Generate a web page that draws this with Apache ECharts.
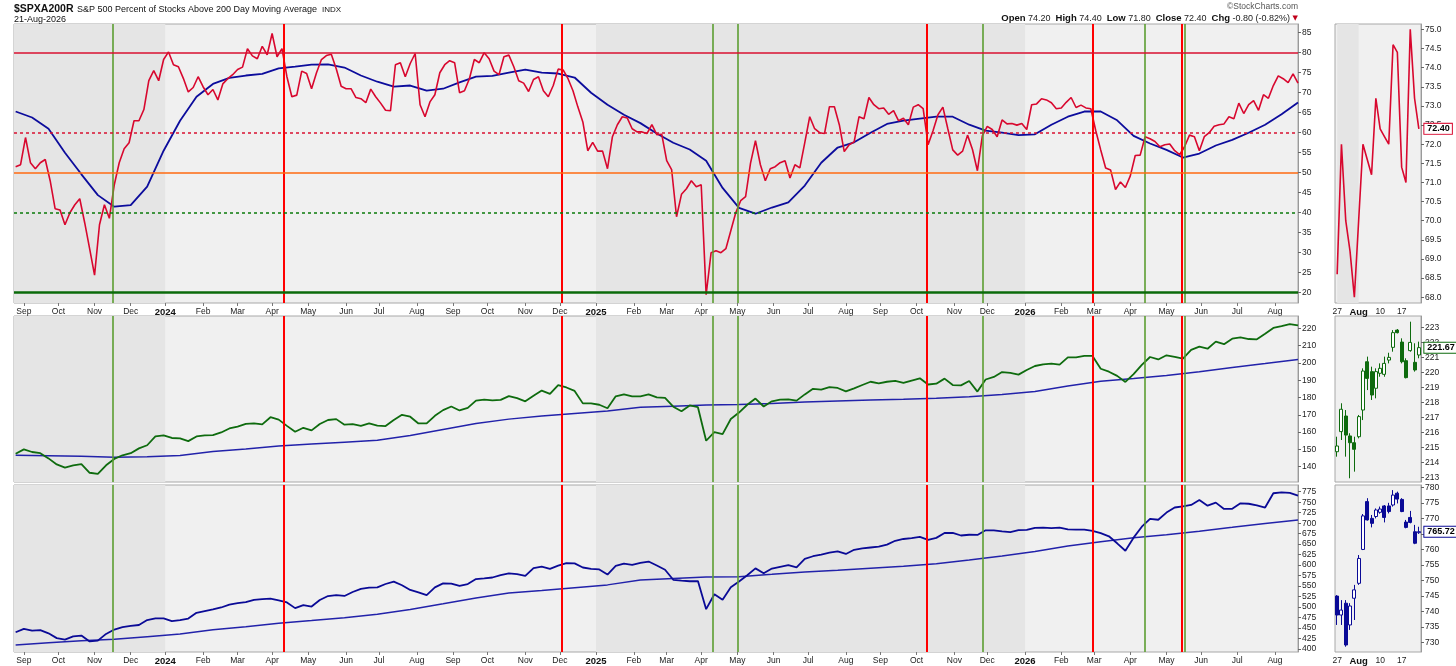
<!DOCTYPE html>
<html>
<head>
<meta charset="utf-8">
<script src="https://cdn.jsdelivr.net/npm/echarts@6/dist/echarts.min.js"></script>
<style>html,body{margin:0;padding:0;background:#fff;}#c{width:1456px;height:666px;}</style>
</head>
<body>
<div id="c"></div>
<script>
// ---------- axis range (weekday calendar) ----------
const startDate = '2023-08-24';
const endDate = '2026-08-21';
const monthNames = ['Jan','Feb','Mar','Apr','May','Jun','Jul','Aug','Sep','Oct','Nov','Dec'];

// ---------- $SPXA200R, read every 3rd weekday starting at 2023-08-25 ----------
const spxaStep = 3, spxaOffset = 1;
const spxa200r = [
51.5,52,58.8,52.5,51,52.5,53.3,48,41,40.7,
37,40,42,43.5,37.5,31,24.4,37,42,38.6,
47,52.5,56,57.5,63,63,65.8,73,75.5,73,
78.3,80.2,77,76.5,73.6,70.2,71.3,74,71.5,69.5,
70.8,68.2,72.2,73.5,74.5,75.8,76.4,81,79.2,78.5,
81.6,79.5,84.8,79,81,74,69,69.4,75.4,74.8,
71,75,78.3,79.3,79.6,76,71.6,71,71,68.8,
68.5,67.5,70.9,69,67.4,65.6,65.5,77,77.5,74,
77.3,79.8,67,64,67.7,69.5,75,77,78,77.5,
70,70.5,73.5,78.3,77.5,80,78.5,75.4,74.5,79,
79.4,76.5,73,72.4,70.3,73.3,74,70.5,69,71.8,
75.9,75.7,73.5,70.5,66.4,62.7,55.5,57.6,55.4,55.4,
51,59,62,64,63.7,61,60.2,60.2,59.8,62,
59.5,59.6,53,50.8,39,44.6,46,48,46.5,47,
19.5,30,30.5,30,31,35.5,40,43,44,52.4,
58,52,48,51,51.5,52.5,53,48.7,52,51.2,
57.5,64,61,60,59.8,66.5,66.5,62,55.3,57,
57.7,64,63.5,68.8,67,66,66.2,64.6,65.5,63,
63.6,62,66.4,67,66,57,60.5,64.5,66.4,61,
55.7,54.4,55.4,59.4,55.8,50.5,59.2,61.6,60.8,59,
63.2,62.2,62.3,61.9,62.3,60.8,67,67.2,68.5,68.2,
67.5,66,66.2,67.6,68.8,66.3,66.9,66.2,66,60.5,
55.7,51.2,50.7,45.8,47.7,46.3,49.2,54.3,54.4,59,
58.5,57.8,56.5,57,57.2,55.5,54.5,56.5,59.4,59,
55.5,59,60,61.6,62,62.2,64,63.5,67.4,64.8,
67,68,65.6,69.5,68.6,71.8,74.2,73.5,72.5,74.7,
72.4
];
// MA(50) of $SPXA200R, read every 10th weekday
const ma50Step = 10, ma50Offset = 1;
const ma50 = [
65.3,63.8,61,55,49.6,44.4,41.5,41.9,46.5,55.5,
63,69,72.2,73.7,74.3,74.7,76.1,76.5,77,77.1,
76.3,74.3,72.75,71.5,71.8,70.5,71,72.6,74,74.2,
75,75.8,75,74.8,73.8,70,67,64.5,62.4,59.8,
57.5,55.8,53,46.2,41.2,39.75,41.3,42.6,46.8,52.5,
56.3,57.6,60,62.2,63,63.5,64,64,62,60.5,
60,59.4,59.6,62,64,65.3,65.3,63.1,59.2,57.3,
55.7,53.8,54.8,56.8,58.2,60,62,64.6,67.58
];

// ---------- _RSP / _SPY closes, read every 5th weekday ----------
const priceStep = 5, priceOffset = 1;
const rsp = [
147.5,150,148.5,147.8,144.8,141.3,139.5,140.8,141.5,136.5,
135.8,140.8,144.5,146.6,147.8,150.6,152.4,157.5,158.1,156.6,
156.4,154.8,157.5,158.1,158.2,159.8,162.1,163.2,164.8,165.1,
164.5,168.6,167.2,163.6,160.2,162.5,161,164.7,167,167.5,
164.3,164.6,163.6,165.1,163.8,163.5,167,170,168.9,165,
165,169.4,172.7,174.8,172.5,174,178.2,178.8,178.3,178.6,
180.8,179.6,177.8,181,184,182.1,187.2,185.8,183.8,176.6,
176.6,175.8,173.8,180.7,181.8,180.7,180.6,181.8,180.1,179.8,
174.7,172,175.4,174.4,155,160,158.8,167.6,171.3,175.8,
179.4,174.8,177.8,178.8,178.9,178.2,181.8,185,184.6,186,
185.5,183.5,185.3,187.2,189.1,188.2,189.1,189.6,188.4,189.8,
191.1,187.5,188,190.9,187.2,187,189.5,183.4,190.4,191.9,
194.7,194.2,193.2,195.9,198.2,199.2,199.6,199,203.2,203.2,
204,204,196.6,194.9,192.5,189,193.5,198.8,203.4,202,
204.4,203.5,202.5,207.5,209.4,208.2,212.3,210.8,214,214.7,
213.8,213.6,216.8,220.2,221.2,222.4,221.67
];
const spy = [
440,448,444,445,437.4,426,422.5,430,432,418,
420,436,446.5,452,455,457.3,469,473.1,473.1,466.5,
468.7,472.5,486.4,490.4,494.3,499,506,509.3,511.8,517.2,
518.9,520,516,511,497.5,504.8,501.3,516.8,526.3,528.6,
526.5,536,543.2,546.2,547,555,560.6,552,540.8,535,
528.6,547,556.6,556,550.3,555,566.7,568.5,570.5,576.4,
580.4,578.5,574.2,593,596.3,591.2,598.6,604.7,604.2,594.3,
591.3,589.8,577.5,598,603.6,600.8,605.5,608.5,599,589,
565,563.2,561.6,562,495,530.7,517.5,547.5,561,575.8,
592.2,580.4,591.8,596,599.8,594.8,614.7,621.2,625,629.7,
632.8,626.6,636.6,640,642,644,649,658,662.3,664.6,
667.4,660.4,665,676.6,677,670.6,672.4,672,683,682.9,
680.6,678.7,683.3,683.8,688.8,689.6,688.3,689.3,685.3,684.7,
684.7,681.5,676.1,668.7,652,634.3,665.5,691.6,710.4,708.2,
725.2,737.4,740.3,743.5,755.2,741.8,749,734,734.3,747.4,
746.3,742.4,737.3,771.3,773.3,772,765.72
];
// MA(200) lines, read every 20th weekday
const ma200Step = 20, ma200Offset = 1;
const rspMa200 = [146.6,146.4,146,145.4,145.8,146.5,148.8,150.3,152,153.1,154.2,155.3,158,161.5,165,167.5,169.3,170.8,172.2,174.3,175,175.7,176,176.6,177.4,178,178.5,179,179.6,180.5,181.8,183.5,186.6,189.4,191,192.7,194.9,197.4,199.6,201.99];
const spyMa200 = [409.6,415,419.6,423.1,429.5,436,446,453.3,461.5,467.8,474.6,483.1,494.3,507.7,521.8,533.5,539.6,546.1,552.9,564.5,568.3,571.8,572.5,578.1,583.8,588,592.6,597.2,603.1,612.3,621.8,632.3,645.7,655.8,665.3,672.3,680.9,690,699.5,707.54];

// ---------- signal lines / reference levels / shading ----------
const redSignals = ['2024-04-10','2024-12-03','2025-10-09','2026-02-27','2026-05-14'];
const greenSignals = ['2023-11-16','2025-04-10','2025-05-01','2025-11-26','2026-04-14','2026-05-18'];
const shadedPeriods = [['2023-08-24','2024-01-01'],['2025-01-01','2026-01-01']];

// ---------- tick labels ----------
const ticksTop = [20,25,30,35,40,45,50,55,60,65,70,75,80,85];
const ticksRsp = [140,150,160,170,180,190,200,210,220];
const ticksSpy = [400,425,450,475,500,525,550,575,600,625,650,675,700,725,750,775];
const ticksMiniTop = [68,68.5,69,69.5,70,70.5,71,71.5,72,72.5,73,73.5,74,74.5,75];
const ticksMiniRsp = [213,214,215,216,217,218,219,220,221,222,223];
const ticksMiniSpy = [730,735,740,745,750,755,760,765,770,775,780];

// ---------- last 20 sessions (zoom panels) ----------
const miniDates = ['2026-07-27','2026-07-28','2026-07-29','2026-07-30','2026-07-31','2026-08-03','2026-08-04','2026-08-05','2026-08-06','2026-08-07','2026-08-10','2026-08-11','2026-08-12','2026-08-13','2026-08-14','2026-08-17','2026-08-18','2026-08-19','2026-08-20','2026-08-21'];
const miniSpxa = [68.6,72.0,70.0,69.2,68.0,70.0,72.0,71.6,71.2,73.2,72.4,72.2,72.0,74.6,74.4,71.4,71.0,75.0,73.2,72.4];
// [open, close, low, high]
const miniRsp = [
[214.73,215.11,214.4,215.73],[216.07,217.56,215.51,217.96],[217.11,215.84,214.4,217.51],[215.78,215.33,212.96,215.96],
[215.33,214.89,213.4,215.73],[215.73,217.07,215.62,217.18],[217.51,220.11,216.84,220.29],[220.73,219.62,218.84,221.07],
[220.07,218.51,218.18,220.4],[218.96,220.07,218.29,220.29],[219.96,220.29,219.73,220.62],[219.89,220.62,219.73,221.07],
[220.84,221.02,220.62,221.33],[221.69,222.67,221.4,222.84],[222.84,222.67,222.62,222.91],[222.04,220.73,220.62,222.29],
[220.8,219.67,219.62,220.96],[221.47,222.02,221.4,223.4],[220.69,220.18,220.07,221.96],[221.18,221.67,220.96,222.07]
];
const miniSpy = [
[745.0,738.9,735.7,745.3],[738.9,740.5,735.7,743.7],[742.7,729.25,728.7,743.7],[735.7,741.8,734.1,742.7],
[744.3,747.0,737.3,748.6],[749.1,757.1,748.6,758.2],[760.0,770.8,759.8,771.4],[775.4,769.5,769.3,776.5],
[770.0,768.4,767.1,771.1],[770.6,772.7,770.0,773.2],[771.95,773.0,771.5,773.8],[774.0,770.3,768.7,774.3],
[774.0,772.2,771.6,775.0],[774.3,777.5,773.8,779.1],[778.1,776.2,774.8,778.6],[776.1,772.2,772.0,776.5],
[768.8,767.1,766.8,769.5],[770.3,768.7,768.4,772.4],[765.7,762.0,761.7,767.9],[765.4,765.72,765.0,767.3]
];
const lastSpxa = 72.40, lastRsp = 221.67, lastSpy = 765.72;

// ================= build =================
const FONT = '"Liberation Sans", Arial, sans-serif';
const days = [];
(function(){
  let t = Date.parse(startDate + 'T00:00:00Z');
  const e = Date.parse(endDate + 'T00:00:00Z');
  while (t <= e) {
    const d = new Date(t);
    const wd = d.getUTCDay();
    if (wd > 0 && wd < 6) days.push(d.toISOString().slice(0, 10));
    t += 86400000;
  }
})();
const monthStart = days.map((d, i) => i > 0 && d.slice(5, 7) !== days[i - 1].slice(5, 7));
const sampled = (arr, step, offset) => arr.map((v, k) => [offset + step * k, v]);

const gridBase = {show: true, backgroundColor: '#f0f0f0', borderColor: '#a8a8a8', borderWidth: 1, containLabel: false, outerBoundsMode: 'none'};
const grids = [
  {left: 14, top: 24, width: 1284, height: 279},
  {left: 14, top: 316, width: 1284, height: 166},
  {left: 14, top: 485, width: 1284, height: 167},
  {left: 1335, top: 24, width: 86, height: 279},
  {left: 1335, top: 316, width: 86, height: 166},
  {left: 1335, top: 485, width: 86, height: 167}
].map(g => Object.assign({}, gridBase, g));

function xMain(gi, show) {
  return {
    type: 'category', gridIndex: gi, data: days, boundaryGap: false,
    axisLine: {show: false}, splitLine: {show: false},
    axisTick: {show: show, interval: (i) => monthStart[i], length: 3, lineStyle: {color: '#777'}},
    axisLabel: {
      show: show, interval: (i) => monthStart[i], margin: 4, fontSize: 8.5, color: '#222', fontFamily: FONT,
      formatter: (v) => { const m = +v.slice(5, 7); return m === 1 ? '{y|' + v.slice(0, 4) + '}' : monthNames[m - 1]; },
      rich: {y: {fontWeight: 'bold', fontSize: 9.5, color: '#111', fontFamily: FONT}}
    }
  };
}
function xMini(gi, show) {
  return {
    type: 'category', gridIndex: gi, data: miniDates, boundaryGap: true,
    axisLine: {show: false}, axisTick: {show: false}, splitLine: {show: false},
    axisLabel: {
      show: show, interval: (i) => new Date(miniDates[i] + 'T00:00:00Z').getUTCDay() === 1,
      margin: 4, fontSize: 8.5, color: '#222', fontFamily: FONT,
      formatter: (v) => { const d = +v.slice(8); return d <= 7 ? '{b|' + monthNames[+v.slice(5, 7) - 1] + '}' : String(d); },
      rich: {b: {fontWeight: 'bold', fontSize: 9.5, color: '#111', fontFamily: FONT}}
    }
  };
}
function yAx(gi, min, max, ticks, dec) {
  return {
    type: 'value', gridIndex: gi, position: 'right', min: min, max: max, scale: true,
    splitLine: {show: false},
    axisLine: {show: true, lineStyle: {color: '#9a9a9a'}},
    axisTick: {show: true, length: 3, customValues: ticks, lineStyle: {color: '#666'}},
    axisLabel: {customValues: ticks, margin: 4, fontSize: 8.5, color: '#222', fontFamily: FONT,
      formatter: (v) => dec ? Number(v).toFixed(dec) : String(v)}
  };
}

function bandSeries(xi, periods, color) {
  return {type: 'line', xAxisIndex: xi, yAxisIndex: xi, data: [], silent: true, z: 1,
    markArea: {silent: true, itemStyle: {color: color}, data: periods.map(p => [{xAxis: p[0]}, {xAxis: p[1]}])}};
}
const signalLines = redSignals.map(d => ({xAxis: d, lineStyle: {color: '#ff0000', width: 2, type: 'solid'}}))
  .concat(greenSignals.map(d => ({xAxis: d, lineStyle: {color: '#5c9e31', width: 1.6, type: 'solid'}})));
const levelLines = [
  {yAxis: 80, lineStyle: {color: '#d81030', width: 1.5, type: 'solid'}},
  {yAxis: 60, lineStyle: {color: '#d81030', width: 1.5, type: [3, 3]}},
  {yAxis: 50, lineStyle: {color: '#ff6a10', width: 1.5, type: 'solid'}},
  {yAxis: 40, lineStyle: {color: '#0a7a0a', width: 1.5, type: [3, 3]}},
  {yAxis: 20, lineStyle: {color: '#0a6a0a', width: 2.5, type: 'solid'}}
];
function ruleSeries(xi, data) {
  return {type: 'line', xAxisIndex: xi, yAxisIndex: xi, data: [], silent: true, z: 2,
    markLine: {silent: true, symbol: ['none', 'none'], label: {show: false}, data: data}};
}
function tag(idx, val, txt, color) {
  return {silent: true, symbol: 'rect', symbolSize: 1, itemStyle: {color: 'rgba(0,0,0,0)'},
    label: {show: true, position: 'right', distance: 5, formatter: txt, color: '#000', fontWeight: 'bold',
      fontSize: 9, fontFamily: FONT, backgroundColor: '#fff', borderColor: color, borderWidth: 1, padding: [1, 2, 0, 3]},
    data: [{coord: [idx, val]}]};
}

const option = {
  animation: false,
  textStyle: {fontFamily: FONT},
  grid: grids,
  xAxis: [xMain(0, true), xMain(1, false), xMain(2, true), xMini(3, true), xMini(4, false), xMini(5, true)],
  yAxis: [
    yAx(0, 17.43, 87.18, ticksTop, 0),
    yAx(1, 131.16, 227.1, ticksRsp, 0),
    yAx(2, 392.9, 791.0, ticksSpy, 0),
    yAx(3, 67.85, 75.14, ticksMiniTop, 1),
    yAx(4, 212.71, 223.78, ticksMiniRsp, 0),
    yAx(5, 727.0, 780.74, ticksMiniSpy, 0)
  ],
  series: [
    bandSeries(0, shadedPeriods, '#e5e5e5'),
    ruleSeries(0, signalLines.concat(levelLines)),
    {type: 'line', name: 'MA(50)', xAxisIndex: 0, yAxisIndex: 0, data: sampled(ma50, ma50Step, ma50Offset), symbol: 'none', z: 3,
      lineStyle: {color: '#0c0c9c', width: 1.8}},
    {type: 'line', name: '$SPXA200R', xAxisIndex: 0, yAxisIndex: 0, data: sampled(spxa200r, spxaStep, spxaOffset), symbol: 'none', z: 4,
      lineStyle: {color: '#d8072e', width: 1.6}},

    bandSeries(1, shadedPeriods, '#e5e5e5'),
    ruleSeries(1, signalLines),
    {type: 'line', xAxisIndex: 1, yAxisIndex: 1, data: sampled(rspMa200, ma200Step, ma200Offset), symbol: 'none', z: 3,
      lineStyle: {color: '#2222aa', width: 1.5}},
    {type: 'line', xAxisIndex: 1, yAxisIndex: 1, data: sampled(rsp, priceStep, priceOffset), symbol: 'none', z: 4,
      lineStyle: {color: '#0e6b0e', width: 1.8}},

    bandSeries(2, shadedPeriods, '#e5e5e5'),
    ruleSeries(2, signalLines),
    {type: 'line', xAxisIndex: 2, yAxisIndex: 2, data: sampled(spyMa200, ma200Step, ma200Offset), symbol: 'none', z: 3,
      lineStyle: {color: '#2222aa', width: 1.5}},
    {type: 'line', xAxisIndex: 2, yAxisIndex: 2, data: sampled(spy, priceStep, priceOffset), symbol: 'none', z: 4,
      lineStyle: {color: '#0a0a96', width: 1.8}},

    bandSeries(3, [['2026-07-27', '2026-08-03']], '#e5e5e5'),
    {type: 'line', xAxisIndex: 3, yAxisIndex: 3, data: miniSpxa, symbol: 'none', z: 4,
      lineStyle: {color: '#d8072e', width: 1.6}, markPoint: tag(miniSpxa.length - 1, lastSpxa, '72.40', '#d8072e')},
    {type: 'candlestick', xAxisIndex: 4, yAxisIndex: 4, data: miniRsp, barWidth: 3.5, z: 4,
      itemStyle: {color: '#ffffff', color0: '#0e6b0e', borderColor: '#0e6b0e', borderColor0: '#0e6b0e', borderWidth: 1},
      markPoint: tag(miniRsp.length - 1, lastRsp, '221.67', '#0e6b0e')},
    {type: 'candlestick', xAxisIndex: 5, yAxisIndex: 5, data: miniSpy, barWidth: 3.5, z: 4,
      itemStyle: {color: '#ffffff', color0: '#0a0a96', borderColor: '#0a0a96', borderColor0: '#0a0a96', borderWidth: 1},
      markPoint: tag(miniSpy.length - 1, lastSpy, '765.72', '#0a0a96')}
  ],
  graphic: [
    {type: 'text', x: 14, y: 9, style: {text: '$SPXA200R', font: 'bold 10.5px ' + FONT, fill: '#111', textVerticalAlign: 'middle'}},
    {type: 'text', x: 77, y: 9.5, style: {text: 'S&P 500 Percent of Stocks Above 200 Day Moving Average', font: '9px ' + FONT, fill: '#111', textVerticalAlign: 'middle'}},
    {type: 'text', x: 322, y: 10, style: {text: 'INDX', font: '8px ' + FONT, fill: '#111', textVerticalAlign: 'middle'}},
    {type: 'text', x: 14, y: 19.5, style: {text: '21-Aug-2026', font: '9px ' + FONT, fill: '#111', textVerticalAlign: 'middle'}},
    {type: 'text', x: 1298, y: 7, style: {text: '\u00A9StockCharts.com', font: '8.5px ' + FONT, fill: '#555', textAlign: 'right', textVerticalAlign: 'middle'}},
    {type: 'text', x: 1298, y: 18.5, style: {
      text: '{b|Open} 74.20  {b|High} 74.40  {b|Low} 71.80  {b|Close} 72.40  {b|Chg} -0.80 (-0.82%) {r|\u25BC}',
      font: '9px ' + FONT, fill: '#222', textAlign: 'right', textVerticalAlign: 'middle',
      rich: {b: {fontWeight: 'bold', fontSize: 9.5, fill: '#111', fontFamily: FONT}, r: {fontSize: 7, fill: '#c0001a', fontFamily: 'DejaVu Sans'}}}},

    {type: 'rect', shape: {x: 16, y: 28, width: 6, height: 2}, style: {fill: '#d8072e'}},
    {type: 'text', x: 24, y: 29, style: {text: '$SPXA200R (Daily) 72.40', font: '8px ' + FONT, fill: '#111', textVerticalAlign: 'middle'}},
    {type: 'rect', shape: {x: 16, y: 35, width: 6, height: 2}, style: {fill: '#0c0c9c'}},
    {type: 'text', x: 24, y: 36, style: {text: 'MA(50) 67.58', font: '8px ' + FONT, fill: '#0c0c9c', textVerticalAlign: 'middle'}},

    {type: 'rect', shape: {x: 16, y: 318.5, width: 2, height: 5}, style: {fill: '#0e6b0e'}},
    {type: 'rect', shape: {x: 19, y: 319.5, width: 2, height: 4}, style: {fill: '#0e6b0e'}},
    {type: 'text', x: 23, y: 321, style: {text: '_RSP 221.67', font: '8px ' + FONT, fill: '#111', textVerticalAlign: 'middle'}},
    {type: 'rect', shape: {x: 16, y: 328.5, width: 6, height: 2}, style: {fill: '#2222aa'}},
    {type: 'text', x: 24, y: 329.5, style: {text: 'MA(200) 201.99', font: '8px ' + FONT, fill: '#2222aa', textVerticalAlign: 'middle'}},

    {type: 'rect', shape: {x: 16, y: 486.5, width: 2, height: 5}, style: {fill: '#0a0a96'}},
    {type: 'rect', shape: {x: 19, y: 487.5, width: 2, height: 4}, style: {fill: '#0a0a96'}},
    {type: 'text', x: 23, y: 489, style: {text: '_SPY 765.72', font: '8px ' + FONT, fill: '#111', textVerticalAlign: 'middle'}},
    {type: 'rect', shape: {x: 16, y: 496, width: 6, height: 2}, style: {fill: '#2222aa'}},
    {type: 'text', x: 24, y: 497, style: {text: 'MA(200) 707.54', font: '8px ' + FONT, fill: '#2222aa', textVerticalAlign: 'middle'}}
  ]
};

const chart = echarts.init(document.getElementById('c'), null, {renderer: 'canvas', width: 1456, height: 666});
chart.setOption(option);
</script>
</body>
</html>
